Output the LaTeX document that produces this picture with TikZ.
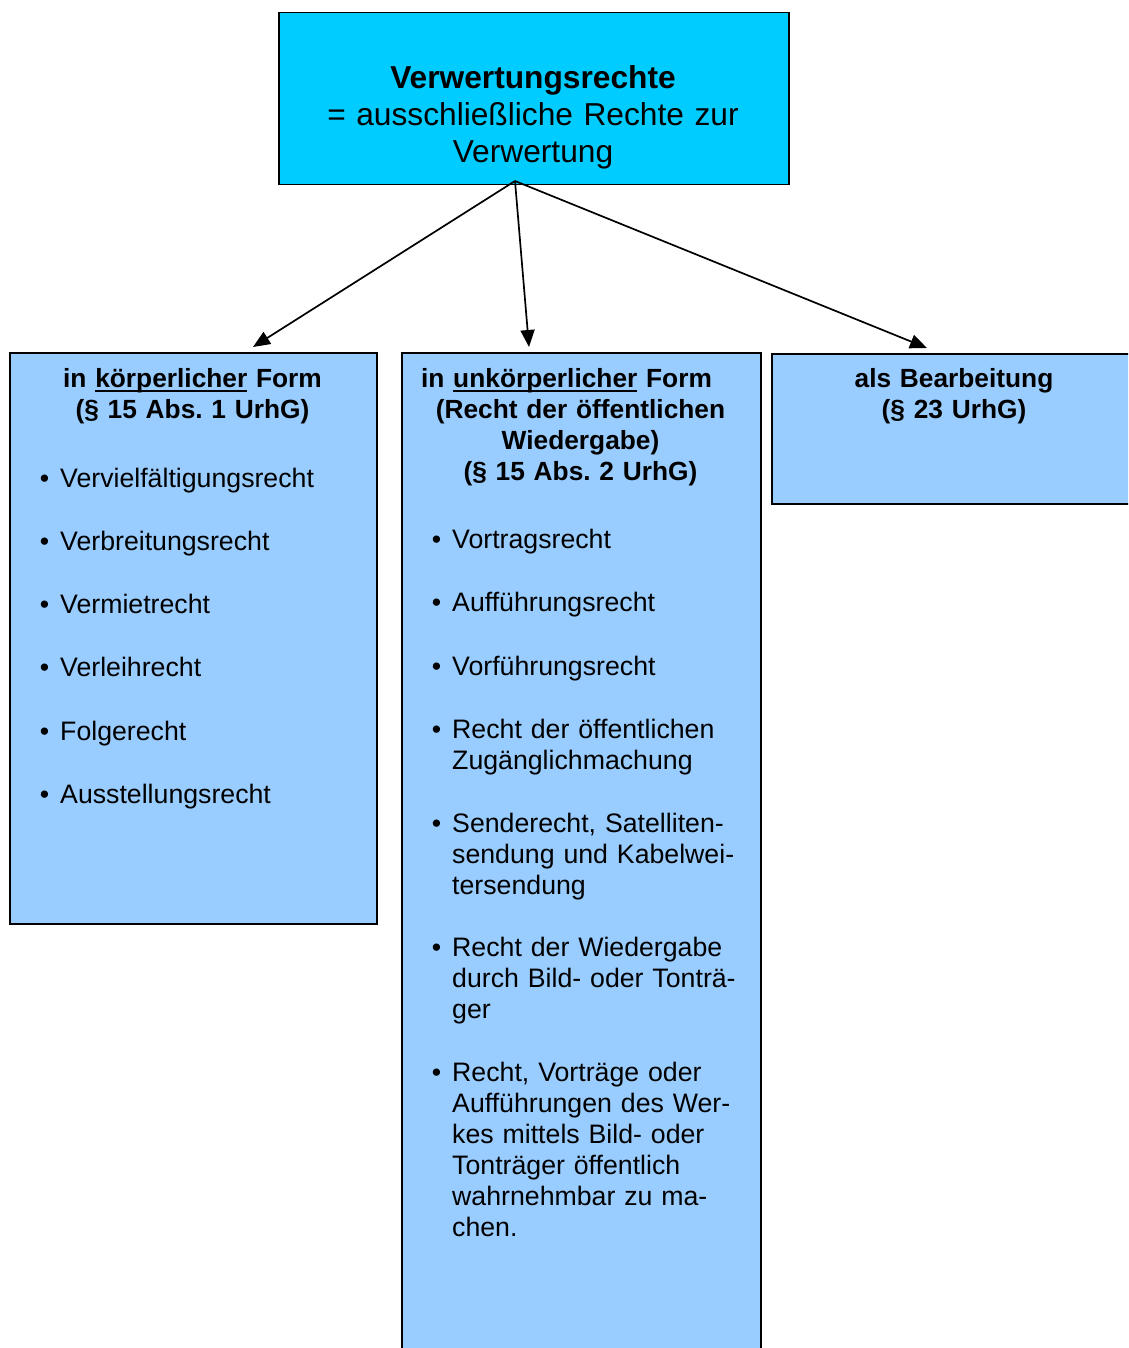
\documentclass[tikz,border=0pt]{standalone}
\usepackage{fontspec}
\setmainfont{Liberation Sans}
\usepackage{xcolor}
\usetikzlibrary{arrows.meta, positioning}

\definecolor{verwcyan}{HTML}{00CCFF}
\definecolor{formblue}{HTML}{99CCFF}

\newcommand{\strich}[1]{\setbox0=\hbox{#1}\rlap{\rule[-5pt]{\wd0}{1.8pt}}\box0\relax}
\newcommand{\punkt}{\llap{\textbullet\hspace{11pt}}}

\tikzset{
    kasten/.style={draw, line width=1.5pt, inner sep=0pt, anchor=north west},
    kopf/.style={font=\fontsize{26.3}{31}\selectfont\bfseries, align=center, text width=350pt, anchor=base, inner sep=0pt},
    eintrag/.style={font=\fontsize{26.7}{31}\selectfont, align=left, text width=330pt, anchor=base west, inner sep=0pt},
    pfeil/.style={-{Triangle[length=17pt, width=14pt]}, line width=1.7pt}
}

\begin{document}
\frenchspacing
\begin{tikzpicture}[x=1pt, y=-1pt]
                                \useasboundingbox (0, 0) rectangle (1128, 1348);
                                \clip (0, 0) rectangle (1128, 1348);
                                % boxes
                                \node[kasten, fill=verwcyan, minimum width=510pt, minimum height=172pt] (verw) at (278, 12) {};
                                \node[kasten, fill=formblue, minimum width=367pt, minimum height=571pt] (koerper) at (9, 352) {};
                                \node[kasten, fill=formblue, minimum width=359pt, minimum height=1100pt] (unkoerper) at (401, 352) {};
                                \node[kasten, fill=formblue, minimum width=380pt, minimum height=150pt] (bearb) at (771, 353) {};
                                % top text
                                \node[kopf, font=\fontsize{31.7}{37}\selectfont, text width=500pt] (verwtext) at (533, 89)
                                    {\textbf{Verwertungsrechte}\\= ausschließliche Rechte zur\\Verwertung};
                                % headers
                                \node[kopf] (koerperkopf) at (192.5, 387) {in \strich{körperlicher} Form\\(§ 15 Abs. 1 UrhG)};
                                \node[kopf] (unkoerperkopf) at (580.5, 387)
                                    {in \strich{unkörperlicher} Form\rule{28pt}{0pt}\\(Recht der öffentlichen\\Wiedergabe)\\(§ 15 Abs. 2 UrhG)};
                                \node[kopf] (bearbkopf) at (954, 387) {als Bearbeitung\\(§ 23 UrhG)};
                                % items
                                \foreach \y/\txt [count=\i] in {487/Vervielfältigungsrecht, 550/Verbreitungsrecht,
                                    613/Vermietrecht, 676/Verleihrecht, 740/Folgerecht, 803/Ausstellungsrecht}
                                    \node[eintrag] (kr-\i) at (60, \y) {\punkt\txt};
                                \foreach \y/\txt [count=\i] in {548/Vortragsrecht, 611/Aufführungsrecht, 675/Vorführungsrecht,
                                    {738/Recht der öffentlichen\\Zugänglichmachung},
                                    {832/Senderecht, Satelliten-\\sendung und Kabelwei-\\tersendung},
                                    {956/Recht der Wiedergabe\\durch Bild- oder Tonträ-\\ger},
                                    {1081/Recht, Vorträge oder\\Aufführungen des Wer-\\kes mittels Bild- oder\\Tonträger öffentlich\\wahrnehmbar zu ma-\\chen.}}
                                    \node[eintrag] (ur-\i) at (452, \y) {\punkt\txt};
                                % arrows
                                \coordinate (quelle) at (515, 181);
                                \coordinate (ziel1) at (253, 347);
                                \coordinate (ziel2) at (529, 347);
                                \coordinate (ziel3) at (927, 348);
                                \draw[pfeil] (quelle) -- (ziel1);
                                \draw[pfeil] (quelle) -- (ziel2);
                                \draw[pfeil] (quelle) -- (ziel3);
\end{tikzpicture}
\end{document}
